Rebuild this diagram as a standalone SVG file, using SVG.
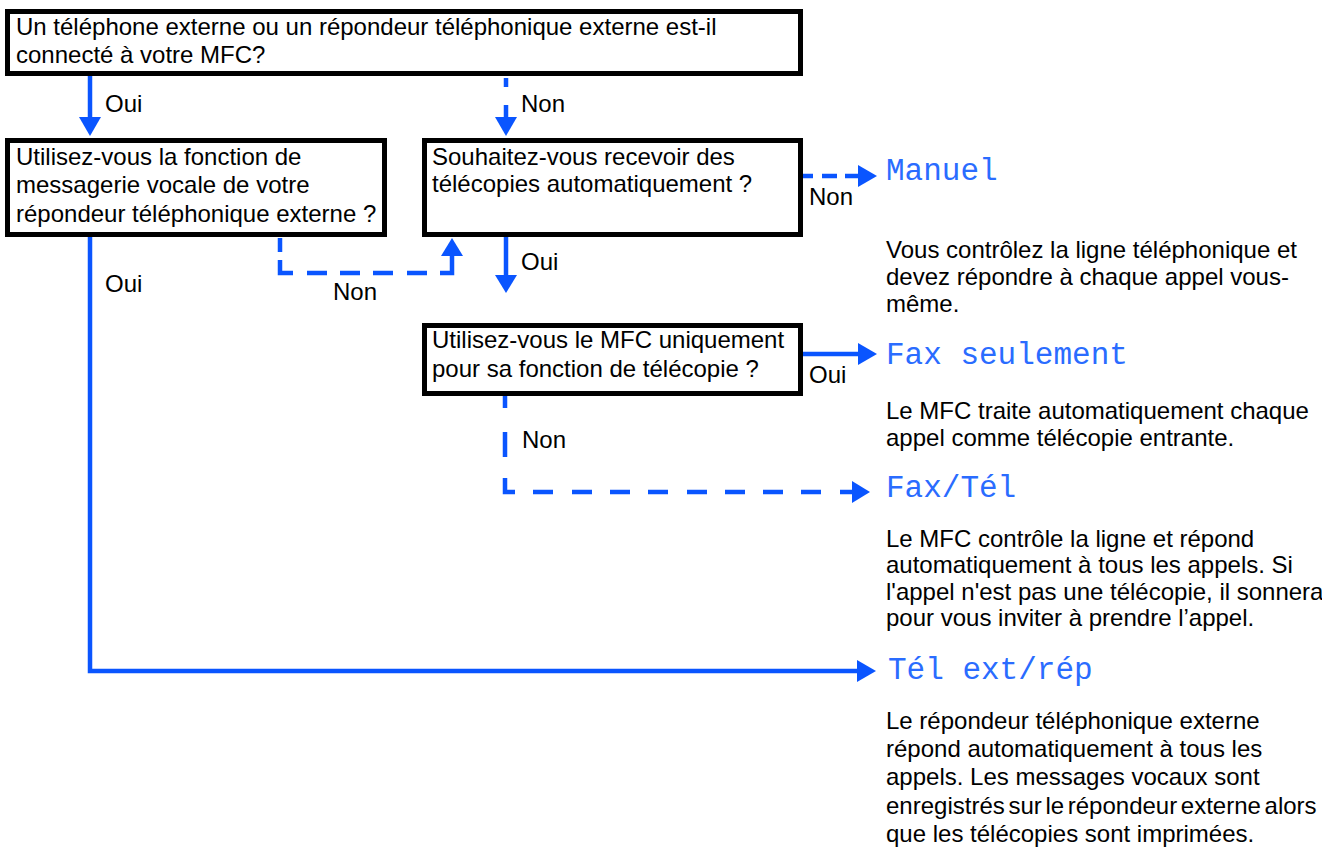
<svg xmlns="http://www.w3.org/2000/svg" width="1322" height="847" viewBox="0 0 1322 847">
<style>
.box{fill:#fff;stroke:#000;stroke-width:5}
.t{font-family:"Liberation Sans",Arial,Helvetica,sans-serif;font-size:24px;fill:#000}
.mode{font-family:"Liberation Mono","DejaVu Sans Mono",monospace;font-size:31px;fill:#2a6cff}
.ln{fill:none;stroke:#0a55ff;stroke-width:4.5}
.hd{fill:#0a55ff}
</style>
<rect width="1322" height="847" fill="#fff"/>
<g id="connectors">
  <path class="ln" d="M90,76 V119"/>
  <polygon class="hd" points="79,117 101,117 90,136"/>
  <path class="ln" d="M506,78 V87 M506,105 V119"/>
  <polygon class="hd" points="495,117 517,117 506,136"/>
  <path class="ln" d="M280,238 V252 M280,260 V273 H293 M307,273 H327 M340,273 H360 M373,273 H393 M407,273 H427 M440,273 H452 V254"/>
  <polygon class="hd" points="441,256 463,256 452,238"/>
  <path class="ln" d="M90,237 V671 H859"/>
  <polygon class="hd" points="857,660 857,682 876,671"/>
  <path class="ln" d="M803,176 H813 M822,176 H837 M845,176 H860"/>
  <polygon class="hd" points="858,165 858,187 877,176"/>
  <path class="ln" d="M506,237 V277"/>
  <polygon class="hd" points="495,275 517,275 506,293"/>
  <path class="ln" d="M803,354 H860"/>
  <polygon class="hd" points="858,343 858,365 877,354"/>
  <path class="ln" d="M505,396 V408 M505,432 V457 M505,478 V492 H515 M533,492 H553 M572,492 H592 M610,492 H630 M648,492 H668 M687,492 H707 M725,492 H745 M763,492 H783 M801,492 H821 M840,492 H854"/>
  <polygon class="hd" points="852,481 852,503 870,492"/>
  <text class="t" x="105" y="112">Oui</text>
  <text class="t" x="521" y="112">Non</text>
  <text class="t" x="105" y="292">Oui</text>
  <text class="t" x="333" y="300">Non</text>
  <text class="t" x="521" y="270">Oui</text>
  <text class="t" x="809" y="205">Non</text>
  <text class="t" x="809" y="383">Oui</text>
  <text class="t" x="522" y="448">Non</text>
</g>
<g id="q1">
  <rect class="box" x="7.5" y="11.5" width="793" height="62"/>
  <text class="t" x="16" y="35">Un téléphone externe ou un répondeur téléphonique externe est-il</text>
  <text class="t" x="16" y="63">connecté à votre MFC?</text>
</g>
<g id="q2">
  <rect class="box" x="7.5" y="140.5" width="377" height="94"/>
  <text class="t" x="16" y="165">Utilisez-vous la fonction de</text>
  <text class="t" x="16" y="193">messagerie vocale de votre</text>
  <text class="t" x="16" y="222">répondeur téléphonique externe ?</text>
</g>
<g id="q3">
  <rect class="box" x="424.5" y="140.5" width="376" height="94"/>
  <text class="t" x="432" y="165">Souhaitez-vous recevoir des</text>
  <text class="t" x="432" y="192">télécopies automatiquement ?</text>
</g>
<g id="q4">
  <rect class="box" x="424.5" y="325.5" width="376" height="68"/>
  <text class="t" x="432" y="348">Utilisez-vous le MFC uniquement</text>
  <text class="t" x="432" y="377">pour sa fonction de télécopie ?</text>
</g>
<g id="manuel">
  <text class="mode" x="886" y="180">Manuel</text>
  <text class="t" x="886" y="258">Vous contrôlez la ligne téléphonique et</text>
  <text class="t" x="886" y="285">devez répondre à chaque appel vous-</text>
  <text class="t" x="886" y="312">même.</text>
</g>
<g id="fax-seulement">
  <text class="mode" x="886" y="364">Fax seulement</text>
  <text class="t" x="886" y="419">Le MFC traite automatiquement chaque</text>
  <text class="t" x="886" y="446">appel comme télécopie entrante.</text>
</g>
<g id="fax-tel">
  <text class="mode" x="886" y="497">Fax/Tél</text>
  <text class="t" x="886" y="547">Le MFC contrôle la ligne et répond</text>
  <text class="t" x="886" y="573">automatiquement à tous les appels. Si</text>
  <text class="t" x="886" y="600">l'appel n'est pas une télécopie, il sonnera</text>
  <text class="t" x="886" y="626">pour vous inviter à prendre l’appel.</text>
</g>
<g id="tel-ext-rep">
  <text class="mode" x="888" y="679">Tél ext/rép</text>
  <text class="t" x="886" y="729">Le répondeur téléphonique externe</text>
  <text class="t" x="886" y="757">répond automatiquement à tous les</text>
  <text class="t" x="886" y="785">appels. Les messages vocaux sont</text>
  <text class="t" x="886" y="814" word-spacing="-3">enregistrés sur le répondeur externe alors</text>
  <text class="t" x="886" y="842">que les télécopies sont imprimées.</text>
</g>
</svg>
